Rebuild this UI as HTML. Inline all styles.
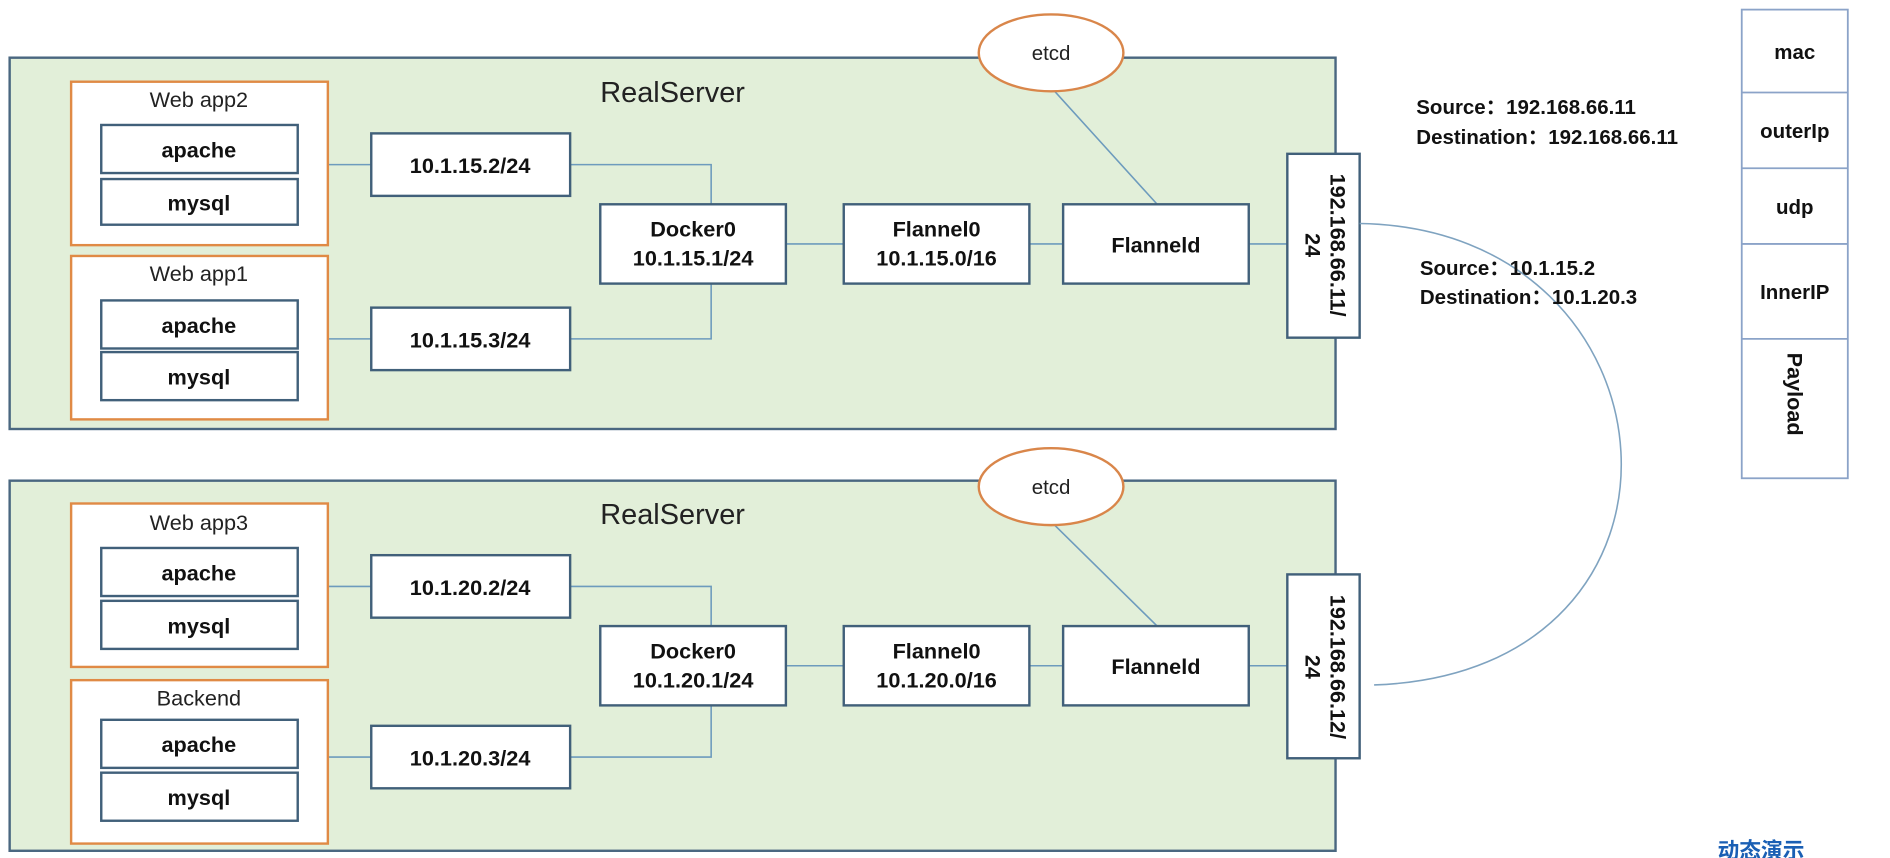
<!DOCTYPE html>
<html><head><meta charset="utf-8"><style>html,body{margin:0;padding:0;background:#fff;}svg{display:block}</style></head><body>
<svg width="1890" height="858" viewBox="0 0 1568 714" preserveAspectRatio="none" xmlns="http://www.w3.org/2000/svg" font-family="Liberation Sans, Arial, sans-serif">
<rect width="1568" height="714" fill="#fff"/>
<g>
<rect x="8" y="48" width="1100" height="309" fill="#e2efd9" stroke="#4a6780" stroke-width="2"/>
<text x="558" y="85" font-size="24" text-anchor="middle" fill="#222">RealServer</text>
<g fill="none" stroke="#6d9bbd" stroke-width="1.3">
<line x1="272" y1="137" x2="308" y2="137"/><polyline points="473,137 590,137 590,170"/>
<line x1="272" y1="282" x2="308" y2="282"/><polyline points="473,282 590,282 590,236"/>
<line x1="652" y1="203" x2="700" y2="203"/><line x1="854" y1="203" x2="882" y2="203"/>
<line x1="1036" y1="203" x2="1068" y2="203"/><line x1="875" y1="76" x2="960" y2="170"/>
</g>
<ellipse cx="872" cy="44" rx="60" ry="32" fill="#fff" stroke="#d9864a" stroke-width="2"/>
<text x="872" y="50" font-size="17" text-anchor="middle" fill="#222">etcd</text>
<g stroke="#e08a45" stroke-width="2" fill="#fff"><rect x="59" y="68" width="213" height="136"/><rect x="59" y="213" width="213" height="136"/></g>
<g stroke="#41607a" stroke-width="2" fill="#fff">
<rect x="84" y="104" width="163" height="40"/><rect x="84" y="149" width="163" height="38"/>
<rect x="84" y="250" width="163" height="40"/><rect x="84" y="293" width="163" height="40"/>
<rect x="308" y="111" width="165" height="52"/><rect x="308" y="256" width="165" height="52"/>
<rect x="498" y="170" width="154" height="66"/><rect x="700" y="170" width="154" height="66"/>
<rect x="882" y="170" width="154" height="66"/><rect x="1068" y="128" width="60" height="153"/>
</g>
<g font-size="18" text-anchor="middle" fill="#222"><text x="165" y="89">Web app2</text><text x="165" y="234">Web app1</text></g>
<g font-size="18" font-weight="bold" text-anchor="middle" fill="#111">
<text x="165" y="131">apache</text><text x="165" y="175">mysql</text>
<text x="165" y="277">apache</text><text x="165" y="320">mysql</text>
<text x="390" y="144">10.1.15.2/24</text><text x="390" y="289">10.1.15.3/24</text>
<text x="575" y="197">Docker0</text><text x="575" y="221">10.1.15.1/24</text>
<text x="777" y="197">Flannel0</text><text x="777" y="221">10.1.15.0/16</text>
<text x="959" y="210">Flanneld</text>
<g transform="translate(1098,204) rotate(90)"><text x="0" y="-6">192.168.66.11/</text><text x="0" y="15">24</text></g>
</g>
</g>
<g>
<rect x="8" y="400" width="1100" height="308" fill="#e2efd9" stroke="#4a6780" stroke-width="2"/>
<text x="558" y="436" font-size="24" text-anchor="middle" fill="#222">RealServer</text>
<g fill="none" stroke="#6d9bbd" stroke-width="1.3">
<line x1="272" y1="488" x2="308" y2="488"/><polyline points="473,488 590,488 590,521"/>
<line x1="272" y1="630" x2="308" y2="630"/><polyline points="473,630 590,630 590,587"/>
<line x1="652" y1="554" x2="700" y2="554"/><line x1="854" y1="554" x2="882" y2="554"/>
<line x1="1036" y1="554" x2="1068" y2="554"/><line x1="875" y1="437" x2="960" y2="521"/>
</g>
<ellipse cx="872" cy="405" rx="60" ry="32" fill="#fff" stroke="#d9864a" stroke-width="2"/>
<text x="872" y="411" font-size="17" text-anchor="middle" fill="#222">etcd</text>
<g stroke="#e08a45" stroke-width="2" fill="#fff"><rect x="59" y="419" width="213" height="136"/><rect x="59" y="566" width="213" height="136"/></g>
<g stroke="#41607a" stroke-width="2" fill="#fff">
<rect x="84" y="456" width="163" height="40"/><rect x="84" y="500" width="163" height="40"/>
<rect x="84" y="599" width="163" height="40"/><rect x="84" y="643" width="163" height="40"/>
<rect x="308" y="462" width="165" height="52"/><rect x="308" y="604" width="165" height="52"/>
<rect x="498" y="521" width="154" height="66"/><rect x="700" y="521" width="154" height="66"/>
<rect x="882" y="521" width="154" height="66"/><rect x="1068" y="478" width="60" height="153"/>
</g>
<g font-size="18" text-anchor="middle" fill="#222"><text x="165" y="441">Web app3</text><text x="165" y="587">Backend</text></g>
<g font-size="18" font-weight="bold" text-anchor="middle" fill="#111">
<text x="165" y="483">apache</text><text x="165" y="527">mysql</text>
<text x="165" y="626">apache</text><text x="165" y="670">mysql</text>
<text x="390" y="495">10.1.20.2/24</text><text x="390" y="637">10.1.20.3/24</text>
<text x="575" y="548">Docker0</text><text x="575" y="572">10.1.20.1/24</text>
<text x="777" y="548">Flannel0</text><text x="777" y="572">10.1.20.0/16</text>
<text x="959" y="561">Flanneld</text>
<g transform="translate(1098,555) rotate(90)"><text x="0" y="-6">192.168.66.12/</text><text x="0" y="15">24</text></g>
</g>
</g>
<path d="M1128,186 C1400,190 1430,560 1140,570" fill="none" stroke="#7fa3c0" stroke-width="1.3"/>
<g font-size="17" font-weight="bold" fill="#111" font-family="Liberation Sans, Noto Sans CJK SC, sans-serif">
<text x="1175" y="95">Source：192.168.66.11</text><text x="1175" y="120">Destination：192.168.66.11</text>
<text x="1178" y="229">Source：10.1.15.2</text><text x="1178" y="253">Destination：10.1.20.3</text>
</g>
<g stroke="#8ba3c8" stroke-width="1.5" fill="#fff">
<rect x="1445" y="8" width="88" height="390"/>
<line x1="1445" y1="77" x2="1533" y2="77"/><line x1="1445" y1="140" x2="1533" y2="140"/>
<line x1="1445" y1="203" x2="1533" y2="203"/><line x1="1445" y1="282" x2="1533" y2="282"/>
</g>
<g font-size="17" font-weight="bold" text-anchor="middle" fill="#111">
<text x="1489" y="49">mac</text><text x="1489" y="115">outerIp</text><text x="1489" y="178">udp</text><text x="1489" y="249">InnerIP</text>
<text transform="translate(1483,328) rotate(90)" text-anchor="middle" font-size="18">Payload</text>
</g>
<text x="1425" y="714" font-size="18" font-weight="bold" fill="#1a5fb4" font-family="Liberation Sans, Noto Sans CJK SC, sans-serif">动态演示</text>
</svg>
</body></html>
